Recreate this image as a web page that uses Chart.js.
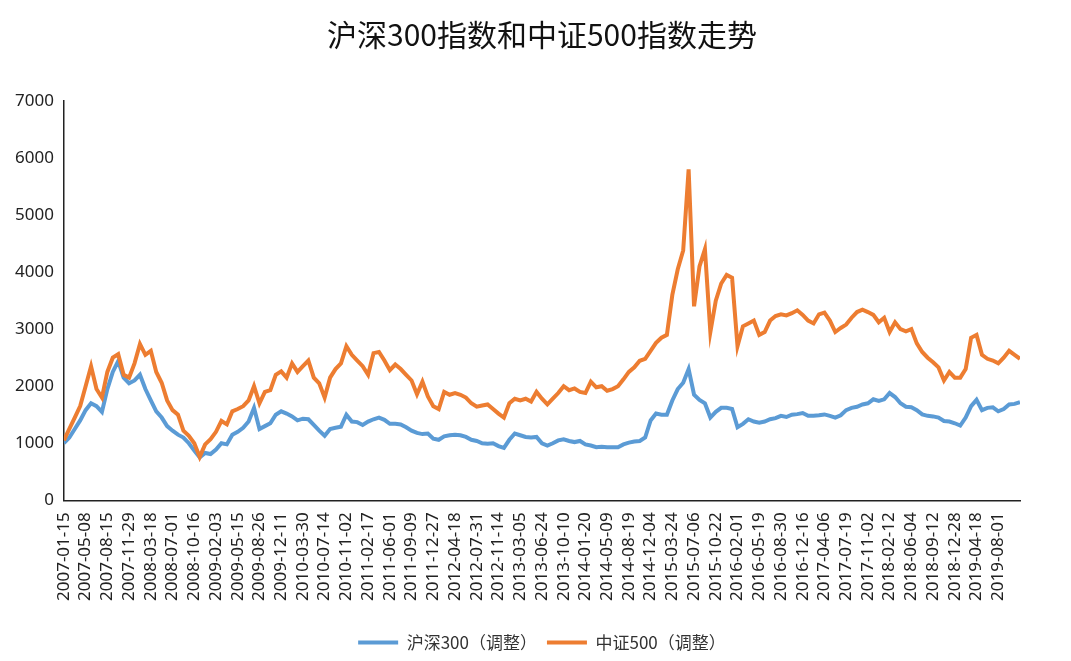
<!DOCTYPE html>
<html>
<head>
<meta charset="utf-8">
<title>沪深300指数和中证500指数走势</title>
<script src="https://cdn.jsdelivr.net/npm/chart.js@4/dist/chart.umd.min.js"></script>
<style>
  html, body { margin: 0; padding: 0; background: #fff; }
</style>
</head>
<body>
<canvas id="myChart" width="1071" height="661"></canvas>
<script>
// x axis tick labels, one every 4 data points
var tickLabels = ['2007-01-15', '2007-05-08', '2007-08-15', '2007-11-29', '2008-03-18', '2008-07-01', '2008-10-16',
  '2009-02-03', '2009-05-15', '2009-08-26', '2009-12-11', '2010-03-30', '2010-07-14', '2010-11-02',
  '2011-02-17', '2011-06-01', '2011-09-09', '2011-12-27', '2012-04-18', '2012-07-31', '2012-11-14',
  '2013-03-05', '2013-06-24', '2013-10-10', '2014-01-20', '2014-05-09', '2014-08-19', '2014-12-04',
  '2015-03-24', '2015-07-06', '2015-10-22', '2016-02-01', '2016-05-19', '2016-08-30', '2016-12-16',
  '2017-04-06', '2017-07-19', '2017-11-02', '2018-02-12', '2018-06-04', '2018-09-12', '2018-12-28',
  '2019-04-18', '2019-08-01'];

// 沪深300（调整）
var hs300 = [1000, 1100, 1250, 1400, 1580, 1700, 1650, 1550, 1950, 2250, 2440,
  2150, 2050, 2100, 2200, 1950, 1750, 1560, 1450, 1300, 1220,
  1150, 1100, 1000, 870, 750, 830, 810, 890, 1000, 980,
  1150, 1200, 1270, 1380, 1620, 1250, 1300, 1350, 1500, 1560,
  1520, 1470, 1400, 1430, 1420, 1320, 1220, 1130, 1250, 1270,
  1290, 1500, 1380, 1370, 1320, 1380, 1420, 1450, 1410, 1340,
  1340, 1330, 1280, 1220, 1180, 1160, 1170, 1080, 1060, 1120,
  1140, 1150, 1140, 1110, 1060, 1040, 1000, 990, 1000, 950,
  920, 1060, 1170, 1140, 1110, 1100, 1110, 1000, 960, 1000,
  1050, 1070, 1040, 1020, 1040, 980, 960, 930, 940, 930,
  930, 930, 980, 1010, 1030, 1040, 1100, 1400, 1520, 1500,
  1500, 1750, 1950, 2060, 2300, 1850, 1760, 1700, 1450, 1550,
  1620, 1620, 1600, 1280, 1340, 1420, 1380, 1360, 1380, 1420,
  1440, 1480, 1460, 1500, 1510, 1530, 1480, 1480, 1490, 1505,
  1480, 1450, 1490, 1580, 1620, 1640, 1680, 1700, 1770, 1740,
  1770, 1880, 1810, 1700, 1640, 1630, 1580, 1505, 1480, 1470,
  1450, 1390, 1380, 1350, 1310, 1450, 1650, 1760, 1580, 1620,
  1630, 1560, 1600, 1680, 1690, 1720];

// 中证500（调整）
var zz500 = [1050, 1250, 1450, 1650, 2000, 2350, 1950, 1800, 2250, 2500, 2560,
  2200, 2150, 2400, 2740, 2550, 2620, 2250, 2060, 1750, 1580,
  1500, 1220, 1130, 1000, 760, 980, 1070, 1200, 1390, 1330,
  1560, 1600, 1650, 1750, 2000, 1700, 1900, 1930, 2200, 2260,
  2150, 2400, 2250, 2350, 2450, 2150, 2050, 1800, 2150, 2300,
  2400, 2700, 2550, 2450, 2350, 2200, 2580, 2600, 2450, 2280,
  2380, 2300, 2200, 2100, 1860, 2080, 1820, 1650, 1600, 1900,
  1850, 1880, 1850, 1800, 1700, 1640, 1660, 1680, 1600, 1520,
  1450, 1700, 1780, 1750, 1780, 1730, 1900, 1780, 1680, 1780,
  1880, 2000, 1930, 1960, 1900, 1880, 2080, 1980, 2000, 1920,
  1950, 2000, 2120, 2250, 2330, 2445, 2480, 2620, 2760, 2850,
  2900, 3600, 4050, 4380, 5800, 3400, 4100, 4400, 2950, 3500,
  3800, 3950, 3900, 2700, 3050, 3100, 3150, 2900, 2950, 3150,
  3230, 3260, 3240, 3280, 3330, 3250, 3150, 3100, 3260, 3290,
  3150, 2950, 3020, 3080, 3200, 3300, 3340, 3300, 3250, 3120,
  3200, 2950, 3120, 3000, 2960, 3000, 2750, 2600, 2500, 2420,
  2330, 2100, 2250, 2150, 2150, 2300, 2850, 2900, 2550, 2480,
  2450, 2400, 2500, 2620, 2550, 2480];

var blue = '#5B9BD5';
var orange = '#ED7D31';
var tickFont = "'Noto Sans', 'Noto Sans CJK SC', sans-serif";
var cjkFont = "'Noto Sans CJK SC', 'Noto Sans', sans-serif";

function toPoints(values) {
  return values.map(function (v, i) {
    return { x: i, y: v };
  });
}

var ctx = document.getElementById('myChart');
var myChart = new Chart(ctx, {
  type: 'line',
  data: {
    datasets: [{
      label: '沪深300（调整）',
      data: toPoints(hs300),
      borderColor: blue,
      backgroundColor: blue,
      borderWidth: 4,
      pointRadius: 0,
      tension: 0,
      order: 1
    }, {
      label: '中证500（调整）',
      data: toPoints(zz500),
      borderColor: orange,
      backgroundColor: orange,
      borderWidth: 4,
      pointRadius: 0,
      tension: 0,
      order: 0
    }]
  },
  options: {
    responsive: false,
    animation: false,
    layout: {
      padding: { left: 5, right: 51, top: 0, bottom: 0 }
    },
    plugins: {
      title: {
        display: true,
        fullSize: false,
        text: '沪深300指数和中证500指数走势',
        color: '#111',
        font: { family: cjkFont, size: 30, weight: 'normal' },
        padding: { top: 17, bottom: 48 }
      },
      legend: {
        position: 'bottom',
        fullSize: false,
        labels: {
          boxWidth: 40,
          boxHeight: 4,
          padding: 10,
          color: '#333',
          font: { family: cjkFont, size: 17 },
          sort: function (a, b) { return a.datasetIndex - b.datasetIndex; },
          generateLabels: function (chart) {
            return Chart.defaults.plugins.legend.labels.generateLabels(chart).map(function (l) {
              l.lineWidth = 0;
              return l;
            });
          }
        }
      },
      tooltip: { enabled: false }
    },
    scales: {
      x: {
        type: 'linear',
        min: 0,
        max: hs300.length - 1,
        grid: { display: false, drawTicks: false },
        border: { display: true, color: '#222', width: 1.5 },
        afterFit: function (scale) {
          scale.height += 11;
        },
        ticks: {
          stepSize: 4,
          maxTicksLimit: 100,
          autoSkip: false,
          maxRotation: 90,
          minRotation: 90,
          padding: 12,
          color: '#222',
          font: { family: tickFont, size: 17 },
          callback: function (v) {
            return tickLabels[v / 4] || '';
          }
        }
      },
      y: {
        min: 0,
        max: 7000,
        grid: { display: false, drawTicks: false },
        border: { display: true, color: '#222', width: 1.5 },
        ticks: {
          stepSize: 1000,
          padding: 10,
          color: '#222',
          font: { family: tickFont, size: 17 },
          callback: function (v) {
            return String(v);
          }
        }
      }
    }
  }
});
</script>
</body>
</html>
